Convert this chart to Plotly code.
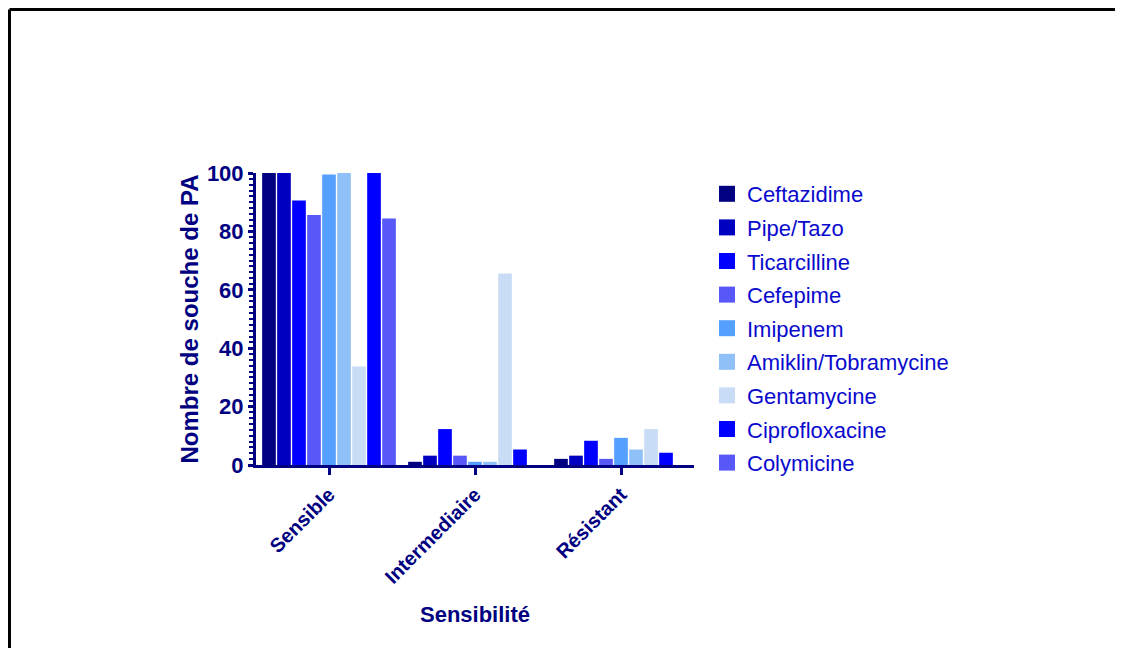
import plotly.graph_objects as go

categories = ["Sensible", "Intermediaire", "Résistant"]
antibiotics = ["Ceftazidime", "Pipe/Tazo", "Ticarcilline", "Cefepime", "Imipenem",
               "Amiklin/Tobramycine", "Gentamycine", "Ciprofloxacine", "Colymicine"]
colors = ["#000080", "#0000C0", "#0000FF", "#5858F8", "#55A0FF",
          "#90C0F8", "#C8DDF5", "#0000FF", "#5858F8"]

sensible = [100, 100, 90.6, 85.6, 99.5, 100, 33.7, 100, 84.4]
intermediaire = [1.1, 3.2, 12.3, 3.2, 1.1, 1.1, 65.6, 5.3, 0]
resistant = [2.1, 3.2, 8.3, 2.1, 9.3, 5.3, 12.3, 4.2, 0]

y_ticks = [0, 20, 40, 60, 80, 100]

navy = "#000080"
font_family = "Arial, Liberation Sans, sans-serif"

fig = go.Figure()
for i, name in enumerate(antibiotics):
    vals = [sensible[i], intermediaire[i], resistant[i]]
    fig.add_trace(go.Bar(
        x=categories, y=vals, name=name, marker_color=colors[i],
        marker_line_width=0, showlegend=False, legendgroup=name,
    ))
for i, name in enumerate(antibiotics):
    fig.add_trace(go.Scatter(
        x=[None], y=[None], mode="markers", name=name, legendgroup=name,
        marker=dict(symbol="square", size=20, color=colors[i]),
        showlegend=True,
    ))

W, H = 1107, 640
L, R, T, B = 248, 1107 - 686, 165, 640 - 457
pw, ph = W - L - R, H - T - B

def px(x):
    return (x - L) / pw

def py(y):
    return (H - B - y) / ph

fig.update_layout(
    width=W, height=H,
    margin=dict(l=L, r=R, t=T, b=B),
    paper_bgcolor="white", plot_bgcolor="white",
    barmode="group", bargap=0.075, bargroupgap=0.09,
    font=dict(family=font_family, color=navy),
    legend=dict(
        x=px(699), xanchor="left", y=py(165), yanchor="top",
        font=dict(size=22, color="#0A0ACD", family=font_family),
        traceorder="grouped", tracegroupgap=2, maxheight=420,
        bgcolor="rgba(0,0,0,0)", itemclick=False,
    ),
    xaxis=dict(
        range=[-0.5, 2.5], showline=True, linecolor=navy, linewidth=3,
        ticks="outside", ticklen=7, tickwidth=3, tickcolor=navy,
        tickangle=-45, showgrid=False, zeroline=False,
        tickfont=dict(size=20, color=navy, family=font_family, weight="bold"),
        title=dict(text="<b>Sensibilité</b>", font=dict(size=22, color=navy), standoff=20),
    ),
    yaxis=dict(
        range=[0, 100], tickvals=y_ticks, showline=True, linecolor=navy, linewidth=3,
        ticks="outside", ticklen=5, tickwidth=3, tickcolor=navy,
        showgrid=False, zeroline=False,
        minor=dict(dtick=2, ticks="outside", ticklen=4, tickwidth=2, tickcolor=navy),
        tickfont=dict(size=22, color=navy, family=font_family, weight="bold"),
        title=dict(text="<b>Nombre de souche de PA</b>", font=dict(size=24, color=navy), standoff=2),
    ),
    shapes=[
        dict(type="line", xref="paper", yref="paper", x0=px(1.5), x1=px(W),
             y0=py(1.5), y1=py(1.5), line=dict(color="black", width=3)),
        dict(type="line", xref="paper", yref="paper", x0=px(1.5), x1=px(1.5),
             y0=py(1.5), y1=py(H), line=dict(color="black", width=3)),
    ],
)

fig.write_html("out.html")
